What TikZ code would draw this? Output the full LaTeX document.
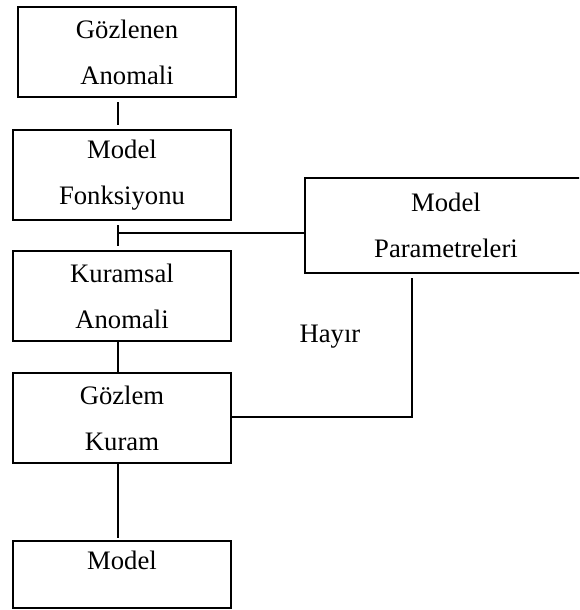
\documentclass[tikz,border=0pt]{standalone}
\usepackage{fontspec}
\setmainfont{Liberation Serif}
\begin{document}
\begin{tikzpicture}[x=0.75pt,y=-0.75pt,
  every node/.style={font={\fontsize{20pt}{34.5pt}\selectfont}},
  box/.style={draw,line width=1.9pt,rectangle,inner sep=0pt,
    minimum width=163.5pt,minimum height=67.5pt,align=center},
  link/.style={line width=1.9pt},
  gap/.style={shorten <=3pt,shorten >=3pt}]
\clip (0,0) rectangle (579,610);
% left column of steps
\node[box] (g)  at (127,52)  {Gözlenen\\Anomali};
\node[box] (mf) at (122,175) {Model\\Fonksiyonu};
\node[box] (ka) at (122,296) {Kuramsal\\Anomali};
\node[box] (gk) at (122,418) {Gözlem\\Kuram};
\node[box,minimum height=50.25pt] (m5) at (122,574.5) {};
\node[anchor=base,inner sep=0pt] (m5t) at (122,569) {Model};
% parameter box on the right
\node[box,minimum width=211.5pt,minimum height=71.25pt] (mp) at (446,225.5) {Model\\Parametreleri};
\node[inner sep=0pt] (h) at (330,337) {Hayır};
% connectors
\coordinate (spine) at (118,0);
\coordinate (j) at (118,233);
\coordinate (r) at (412,417);
\draw[link,gap] (g.south -| spine) -- (mf.north -| spine);
\draw[link,gap] (mf.south -| spine) -- (ka.north -| spine);
\draw[link] (j) -- (mp.west |- j);
\draw[link] (ka.south -| spine) -- (gk.north -| spine);
\draw[link,shorten >=1.5pt] (gk.south -| spine) -- (m5.north -| spine);
\draw[link,shorten <=3pt] (mp.south -| r) -- (r) -- (gk.east |- r);
\end{tikzpicture}
\end{document}
